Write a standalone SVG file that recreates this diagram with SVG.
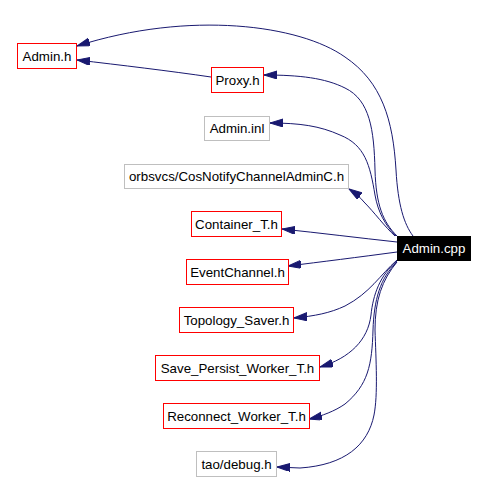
<svg xmlns="http://www.w3.org/2000/svg" width="488" height="482" viewBox="0 0 488 482">
<style>
  .bg { fill: #ffffff; }
  .box { fill: #ffffff; stroke-width: 1; }
  .red { stroke: #ff0000; }
  .grey { stroke: #bfbfbf; }
  .main { fill: #000000; stroke: #000000; }
  text { font-family: "Liberation Sans", Arial, Helvetica, sans-serif; font-size: 13.3px; text-anchor: middle; fill: #000000; }
  .main-label { fill: #ffffff; }
  .edge { fill: none; stroke: #191970; stroke-width: 1; marker-end: url(#arrow); }
</style>
<defs>
  <marker id="arrow" markerUnits="userSpaceOnUse" markerWidth="14" markerHeight="9" refX="13" refY="4" orient="auto">
    <path d="M0,0 L13,4 L0,8 z" fill="#191970" stroke="#191970" stroke-width="1"/>
  </marker>
</defs>
<rect class="bg" x="0" y="0" width="488" height="482"/>

<g id="edges">
  <path class="edge" d="M413,236 C404,224 398,205 396,170 C393,120 382,82 345,57 C300,25 190,10 77,46"/>
  <path class="edge" d="M211,77 C170,71 120,65 77,60"/>
  <path class="edge" d="M397,236 C383,222 376,205 375,170 C374,130 370,100 345,88 C325,78 300,75 264,75"/>
  <path class="edge" d="M396,236 C385,225 378,212 375,195 C370,165 365,145 340,135 C320,126 300,123 270,123"/>
  <path class="edge" d="M395,236 C385,227 374,212 364,202 C360,197 355,193 349,189"/>
  <path class="edge" d="M397,242 C360,238 320,233 282,229"/>
  <path class="edge" d="M397,252 C360,257 320,262 288,266"/>
  <path class="edge" d="M397,260 C380,275 370,293 345,306 C330,313 315,316 294,318"/>
  <path class="edge" d="M397,261 C380,275 373,295 371,315 C368,340 350,358 320,367"/>
  <path class="edge" d="M397,262 C380,278 374,300 373,330 C372,365 368,385 345,404 C335,411 322,416 309,419"/>
  <path class="edge" d="M397,262 C382,280 375,300 375,330 C376,360 378,395 374,415 C368,445 345,465 300,468 L277,467"/>
</g>

<g id="node-admin-cpp">
  <rect class="main" x="397.5" y="236.5" width="73" height="24"/>
  <text class="main-label" x="434" y="253">Admin.cpp</text>
</g>
<g id="node-admin-h">
  <rect class="box red" x="17.5" y="43.5" width="59" height="25"/>
  <text x="47" y="60.5">Admin.h</text>
</g>
<g id="node-proxy-h">
  <rect class="box red" x="211.5" y="67.5" width="52" height="25"/>
  <text x="237.5" y="84.5">Proxy.h</text>
</g>
<g id="node-admin-inl">
  <rect class="box grey" x="204.5" y="116.5" width="65" height="24"/>
  <text x="237" y="133">Admin.inl</text>
</g>
<g id="node-cosnotify">
  <rect class="box grey" x="124.5" y="164.5" width="224" height="24"/>
  <text x="236.5" y="181">orbsvcs/CosNotifyChannelAdminC.h</text>
</g>
<g id="node-container">
  <rect class="box red" x="191.5" y="211.5" width="90" height="25"/>
  <text x="236.5" y="228.5">Container_T.h</text>
</g>
<g id="node-eventchannel">
  <rect class="box red" x="186.5" y="259.5" width="102" height="25"/>
  <text x="237.5" y="276.5">EventChannel.h</text>
</g>
<g id="node-topology">
  <rect class="box red" x="179.5" y="307.5" width="114" height="25"/>
  <text x="236.5" y="324.5">Topology_Saver.h</text>
</g>
<g id="node-save-persist">
  <rect class="box red" x="155.5" y="355.5" width="164" height="25"/>
  <text x="237.5" y="372.5">Save_Persist_Worker_T.h</text>
</g>
<g id="node-reconnect">
  <rect class="box red" x="163.5" y="403.5" width="146" height="25"/>
  <text x="236.5" y="420.5">Reconnect_Worker_T.h</text>
</g>
<g id="node-debug">
  <rect class="box grey" x="196.5" y="451.5" width="80" height="25"/>
  <text x="236.5" y="468.5">tao/debug.h</text>
</g>
</svg>
